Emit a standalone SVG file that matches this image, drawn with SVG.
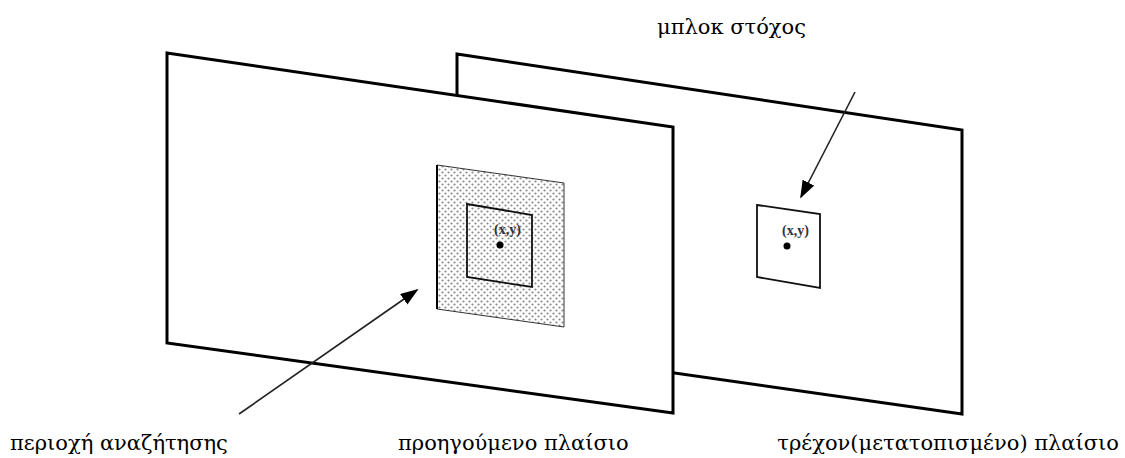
<svg xmlns="http://www.w3.org/2000/svg" width="1125" height="458" viewBox="0 0 1125 458">
  <style>
    .frame { fill: #ffffff; stroke: #000000; stroke-width: 3; stroke-linejoin: miter; }
    .block { fill: none; stroke: #111111; stroke-width: 1.8; }
    .conn { stroke: #222222; stroke-width: 1.6; fill: none; }
    .label { font-family: 'DejaVu Serif', 'Liberation Serif', serif; font-size: 21px; fill: #000000; }
    .coord { font-family: 'Liberation Serif', 'Times New Roman', serif; font-size: 14px; font-weight: bold; fill: #333333; }
  </style>
  <defs>
    <pattern id="dots" width="6" height="6" patternUnits="userSpaceOnUse">
      <rect width="6" height="6" fill="#ffffff"/>
      <circle cx="1.5" cy="1.5" r="1.1" fill="#8a8a8a"/>
      <circle cx="4.5" cy="4.5" r="1.1" fill="#8a8a8a"/>
    </pattern>
    <marker id="head" viewBox="0 0 10 10" refX="9" refY="5" markerWidth="18" markerHeight="13" markerUnits="userSpaceOnUse" orient="auto" preserveAspectRatio="none">
      <path d="M0,0 L10,5 L0,10 Z" fill="#000000"/>
    </marker>
  </defs>

  <rect width="1125" height="458" fill="#ffffff"/>

  <!-- current (shifted) frame, behind -->
  <g id="current-frame">
    <polygon class="frame" points="457,54 962,130 962,414 457,342"/>
    <g id="target-block">
      <polygon class="block" fill="#ffffff" points="757,205 820,214 820,288 757,277"/>
      <circle cx="787" cy="246" r="3.5" fill="#000000"/>
      <text class="coord" x="782" y="235">(x,y)</text>
    </g>
  </g>

  <!-- previous frame, in front -->
  <g id="previous-frame">
    <polygon class="frame" points="167,53 673,127 673,413 167,343"/>
    <g id="search-area">
      <polygon points="437,165 564,183 564,327 437,309" fill="url(#dots)" stroke="#333333" stroke-width="1"/>
      <line x1="437" y1="165" x2="437" y2="309" stroke="#000000" stroke-width="2"/>
    </g>
    <g id="source-block">
      <polygon class="block" points="467,204 532,215 532,287 467,277"/>
      <circle cx="500" cy="245" r="3.5" fill="#000000"/>
      <text class="coord" x="494" y="234">(x,y)</text>
    </g>
  </g>

  <!-- pointers from labels -->
  <g id="connectors">
    <line class="conn" x1="855" y1="92" x2="801" y2="197" marker-end="url(#head)"/>
    <line class="conn" x1="239" y1="414" x2="417" y2="290" marker-end="url(#head)"/>
  </g>

  <g id="labels">
    <text class="label" x="657" y="34">μπλοκ στόχος</text>
    <text class="label" x="10" y="450">περιοχή αναζήτησης</text>
    <text class="label" x="398" y="450">προηγούμενο πλαίσιο</text>
    <text class="label" x="1119" y="450" text-anchor="end">τρέχον(μετατοπισμένο) πλαίσιο</text>
  </g>
</svg>
